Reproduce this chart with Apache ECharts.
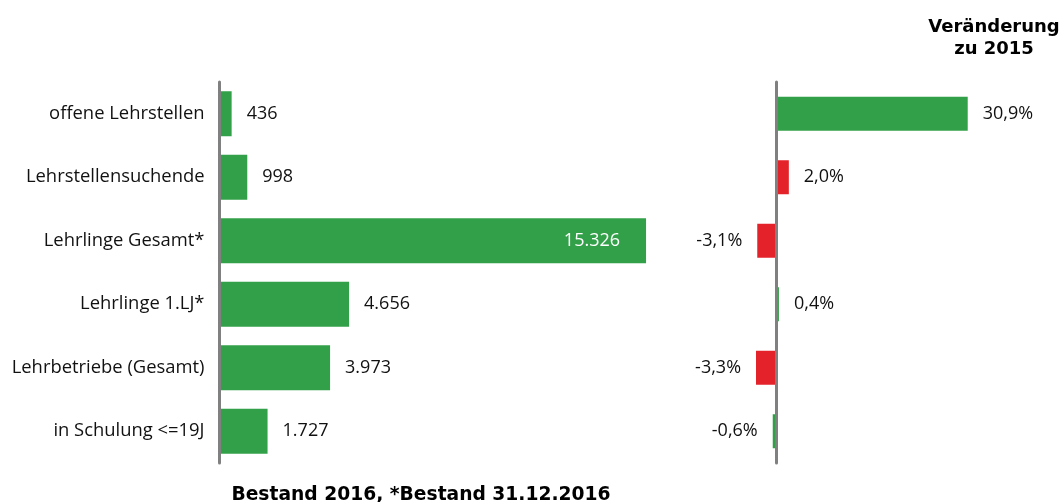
<!DOCTYPE html>
<html>
<head>
<meta charset="utf-8">
<script src="https://cdn.jsdelivr.net/npm/echarts@6/dist/echarts.min.js"></script>
<style>
	html, body { margin: 0; padding: 0; background: #fff; }
	#chart { width: 1063px; height: 502px; }
</style>
</head>
<body>
<div id="chart"></div>
<script>
	// Kategorien von oben nach unten
	const categories = ['offene Lehrstellen', 'Lehrstellensuchende', 'Lehrlinge Gesamt*', 'Lehrlinge 1.LJ*', 'Lehrbetriebe (Gesamt)', 'in Schulung <=19J'];
	const bestand = [436, 998, 15326, 4656, 3973, 1727];
	const veraenderung = [30.9, 2.0, -3.1, 0.4, -3.3, -0.6];
	// steigt der Wert = gut?
	const steigenIstGut = [true, false, true, true, true, false];

	const GREEN = '#32a048';
	const RED = '#e3222a';
	const FONT = 'Open Sans';

	const fmtNum = v => String(v).replace(/\B(?=(\d{3})+(?!\d))/g, '.');
	const fmtPct = v => v.toFixed(1).replace('.', ',') + '%';

	const chart = echarts.init(document.getElementById('chart'));
	chart.setOption({
		animation: false,
		textStyle: { fontFamily: FONT },
		title: [
			{
				text: 'Veränderung\nzu 2015',
				left: 989, top: 11, textAlign: 'center',
				textStyle: { fontFamily: 'DejaVu Sans', fontWeight: 'bold', fontSize: 18, lineHeight: 22, color: '#000' }
			},
			{
				text: 'Bestand 2016, *Bestand 31.12.2016',
				left: 416, top: 481, textAlign: 'center',
				textStyle: { fontFamily: 'DejaVu Sans', fontWeight: 'bold', fontSize: 18.7, color: '#000' }
			}
		],
		grid: [
			{ left: 219.5, top: 82, width: 445.3, height: 381 },
			{ left: 745.5, top: 82, width: 247.6, height: 381 }
		],
		xAxis: [
			{ gridIndex: 0, type: 'value', min: 0, max: 16000, show: false },
			{ gridIndex: 1, type: 'value', min: -5, max: 35, show: false }
		],
		yAxis: [
			{
				gridIndex: 0, type: 'category', data: categories, inverse: true, z: 5,
				axisLine: { lineStyle: { color: '#808080', width: 3 } },
				axisTick: { show: false },
				axisLabel: { margin: 15, fontSize: 18.4, color: '#111' }
			},
			{
				gridIndex: 1, type: 'category', data: categories, inverse: true, z: 5,
				axisLine: { onZero: true, lineStyle: { color: '#808080', width: 3 } },
				axisTick: { show: false },
				axisLabel: { show: false }
			}
		],
		series: [
			{
				type: 'bar', xAxisIndex: 0, yAxisIndex: 0, barWidth: 45,
				itemStyle: { color: GREEN },
				data: bestand.map((v, i) => ({
					value: v,
					label: i === 2
						? { position: 'insideRight', distance: 26, color: '#fff' }
						: { position: 'right', distance: 15, color: '#111' }
				})),
				label: { show: true, fontSize: 18, formatter: p => fmtNum(p.value) }
			},
			{
				type: 'bar', xAxisIndex: 1, yAxisIndex: 1, barWidth: 34,
				data: veraenderung.map((v, i) => ({
					value: v,
					itemStyle: { color: ((v > 0) === steigenIstGut[i]) ? GREEN : RED },
					label: { position: v < 0 ? 'left' : 'right' }
				})),
				label: { show: true, distance: 15, fontSize: 18, color: '#111', formatter: p => fmtPct(p.value) }
			}
		]
	});
</script>
</body>
</html>
